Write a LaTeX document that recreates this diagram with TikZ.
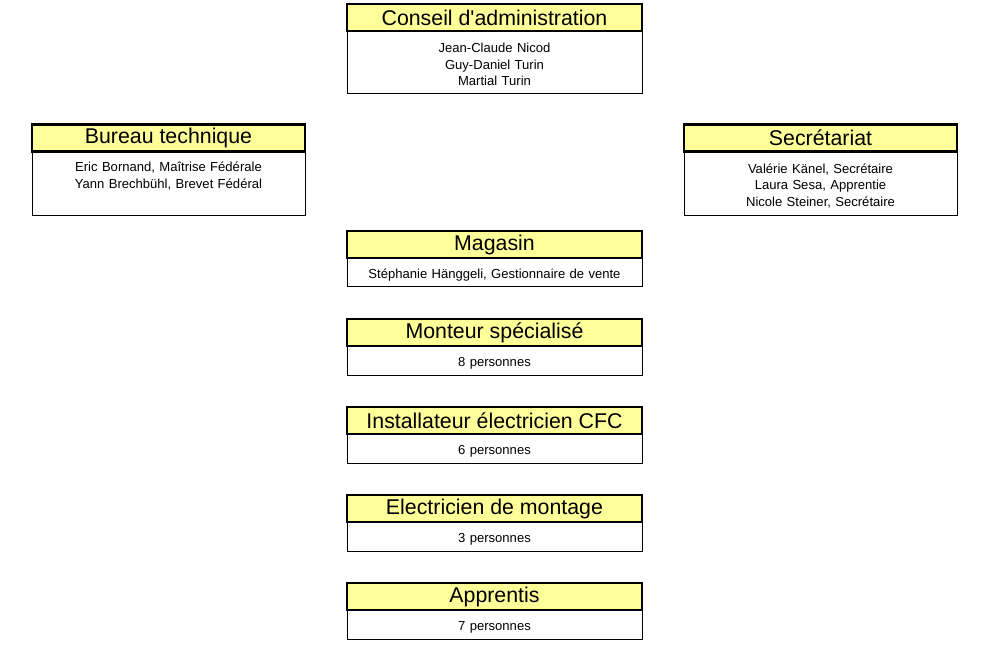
\documentclass[tikz,border=0pt]{standalone}
\usepackage{fontspec}
\setmainfont{Liberation Sans}
\usepackage{tikz}
\usetikzlibrary{positioning}
\definecolor{headyellow}{RGB}{255,255,153}

\begin{document}
\begin{tikzpicture}[
x=0.75pt, y=-0.75pt,
node distance=24pt,
headbox/.style={draw, line width=1.7pt, fill=headyellow, outer sep=0pt, inner sep=0pt,
  minimum width=221.25pt, minimum height=20.25pt, font=\fontsize{16}{19}\selectfont},
bodybox/.style={draw, line width=0.75pt, outer sep=0pt, inner xsep=0pt, inner ysep=2pt,
  text width=221.25pt, align=center, minimum height=21.75pt, font=\fontsize{9.8}{12.4}\selectfont,
  execute at begin node={\rule{0pt}{10.5pt}}},
sidehead/.style={headbox, minimum width=204.75pt},
sidebody/.style={bodybox, text width=204.75pt, minimum height=48pt}
]
\useasboundingbox (0,0) rectangle (992,645);

% Nodes
\node[headbox] (conseil) at (494.5,17.5) {Conseil d\textquotesingle administration};
\node[bodybox, minimum height=47.25pt, below=0pt of conseil] (conseilbody) {Jean-Claude Nicod\\Guy-Daniel Turin\\Martial Turin};

\node[sidehead] (bureau) at (168.5,138) {Bureau technique};
\node[sidebody, below=0pt of bureau] (bureaubody) {Eric Bornand, Maîtrise Fédérale\\Yann Brechbühl, Brevet Fédéral\\\strut};

\node[sidehead] (secretariat) at (820.5,138) {Secrétariat};
\node[sidebody, below=0pt of secretariat] (secretariatbody) {Valérie Känel, Secrétaire\\Laura Sesa, Apprentie\\Nicole Steiner, Secrétaire};

\node[headbox] (magasin) at (494.5,244.5) {Magasin};
\node[bodybox, below=0pt of magasin] (magasinbody) {Stéphanie Hänggeli, Gestionnaire de vente};

\node[headbox, below=of magasinbody] (monteur) {Monteur spécialisé};
\node[bodybox, below=0pt of monteur] (monteurbody) {8 personnes};

\node[headbox, below=of monteurbody] (installateur) {Installateur électricien CFC};
\node[bodybox, below=0pt of installateur] (installateurbody) {6 personnes};

\node[headbox, below=of installateurbody] (electricien) {Electricien de montage};
\node[bodybox, below=0pt of electricien] (electricienbody) {3 personnes};

\node[headbox, below=of electricienbody] (apprentis) {Apprentis};
\node[bodybox, below=0pt of apprentis] (apprentisbody) {7 personnes};
\end{tikzpicture}
\end{document}
